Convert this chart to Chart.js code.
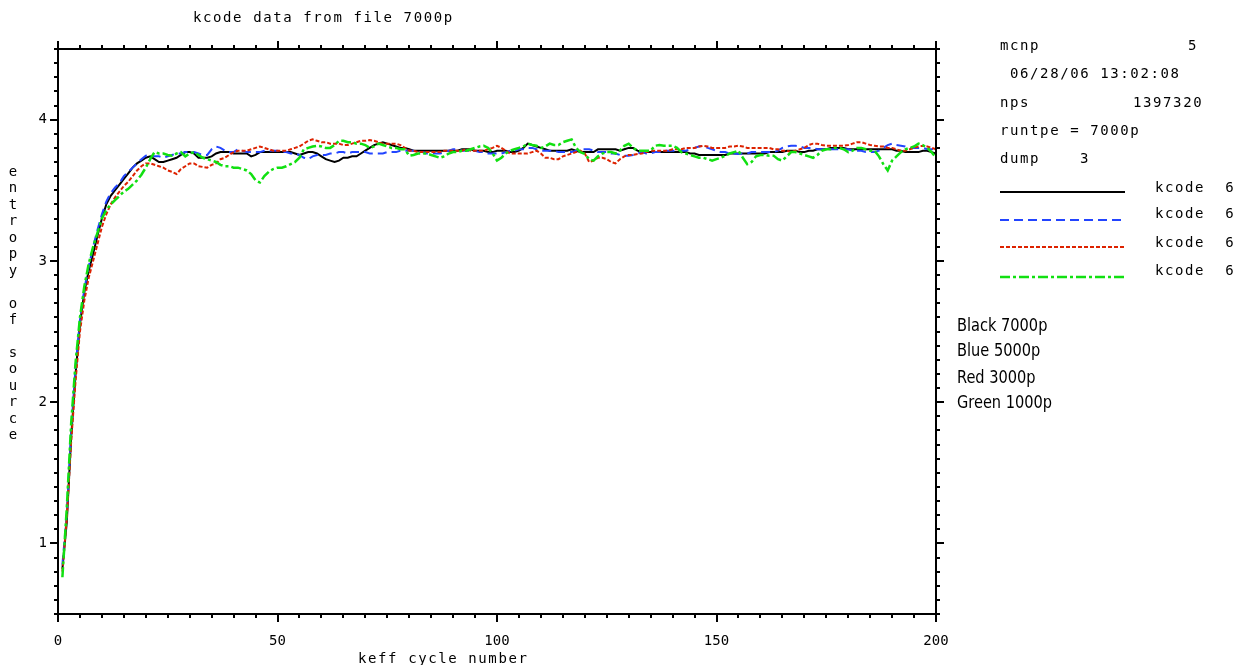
<!DOCTYPE html>
<html>
<head>
<meta charset="utf-8">
<script src="https://cdn.jsdelivr.net/npm/chart.js@4.4.0/dist/chart.umd.min.js"></script>
<style>
  html, body { margin: 0; padding: 0; background: #fff; }
  #wrap { position: relative; width: 1239px; height: 665px; overflow: hidden; }
  #chart { position: absolute; left: 0; top: 0; }
  .t { position: absolute; font-family: 'DejaVu Sans Mono', monospace; font-size: 14px; letter-spacing: 1.6px; line-height: 1; color: #000; white-space: pre; }
  .n { position: absolute; font-family: 'DejaVu Sans Condensed', 'Liberation Sans Narrow', sans-serif; font-size: 18px; letter-spacing: 0; line-height: 1; color: #000; white-space: pre; transform: scaleX(0.9); transform-origin: left top; }
  #ytitle { left: 8px; top: 163px; line-height: 16.44px; letter-spacing: 0; width: 10px; text-align: center; }
</style>
</head>
<body>
<div id="wrap">
  <canvas id="chart" width="1239" height="665"></canvas>

  <div class="t" style="left:193px; top:10px;">kcode data from file 7000p</div>
  <div class="t" style="left:358px; top:651px;">keff cycle number</div>
  <div class="t" id="ytitle"></div>

  <!-- info panel on the right -->
  <div class="t" style="left:1000px; top:38px;">mcnp</div>
  <div class="t" style="left:1188px; top:38px;">5</div>
  <div class="t" style="left:1000px; top:66px;"> 06/28/06 13:02:08</div>
  <div class="t" style="left:1000px; top:95px;">nps</div>
  <div class="t" style="left:1133px; top:95px;">1397320</div>
  <div class="t" style="left:1000px; top:123px;">runtpe = 7000p</div>
  <div class="t" style="left:1000px; top:151px;">dump</div>
  <div class="t" style="left:1080px; top:151px;">3</div>
  <div class="t" style="left:1155px; top:180px;">kcode  6</div>
  <div class="t" style="left:1155px; top:206px;">kcode  6</div>
  <div class="t" style="left:1155px; top:235px;">kcode  6</div>
  <div class="t" style="left:1155px; top:263px;">kcode  6</div>

  <div class="n" style="left:957px; top:316px;">Black 7000p</div>
  <div class="n" style="left:957px; top:341px;">Blue 5000p</div>
  <div class="n" style="left:957px; top:368px;">Red 3000p</div>
  <div class="n" style="left:957px; top:393px;">Green 1000p</div>
</div>

<script>
// kcode cycles 1..200
const CYCLES = Array.from({ length: 200 }, (_, i) => i + 1);

// entropy of source per cycle
const BLACK_7000 = [
  0.82, 1.15, 1.75, 2.20, 2.55, 2.78, 2.93, 3.05, 3.18, 3.30,
  3.40, 3.46, 3.50, 3.54, 3.58, 3.62, 3.66, 3.69, 3.71, 3.73,
  3.74, 3.72, 3.70, 3.70, 3.71, 3.72, 3.73, 3.75, 3.77, 3.77,
  3.76, 3.73, 3.73, 3.73, 3.74, 3.76, 3.77, 3.77, 3.77, 3.76,
  3.76, 3.76, 3.76, 3.74, 3.75, 3.77, 3.77, 3.77, 3.77, 3.77,
  3.77, 3.77, 3.77, 3.76, 3.75, 3.76, 3.77, 3.77, 3.76, 3.74,
  3.72, 3.71, 3.70, 3.71, 3.73, 3.73, 3.74, 3.74, 3.76, 3.78,
  3.80, 3.82, 3.83, 3.84, 3.83, 3.82, 3.81, 3.80, 3.80, 3.79,
  3.78, 3.78, 3.78, 3.78, 3.78, 3.78, 3.78, 3.78, 3.78, 3.78,
  3.78, 3.79, 3.79, 3.79, 3.78, 3.78, 3.78, 3.77, 3.77, 3.78,
  3.78, 3.78, 3.77, 3.77, 3.78, 3.80, 3.83, 3.82, 3.81, 3.80,
  3.79, 3.78, 3.78, 3.78, 3.78, 3.78, 3.79, 3.78, 3.77, 3.77,
  3.77, 3.77, 3.79, 3.79, 3.79, 3.79, 3.79, 3.78, 3.79, 3.80,
  3.80, 3.78, 3.77, 3.77, 3.77, 3.77, 3.77, 3.77, 3.77, 3.77,
  3.77, 3.77, 3.77, 3.76, 3.76, 3.75, 3.75, 3.75, 3.75, 3.75,
  3.75, 3.75, 3.76, 3.76, 3.76, 3.76, 3.76, 3.76, 3.76, 3.76,
  3.76, 3.77, 3.77, 3.77, 3.77, 3.78, 3.78, 3.78, 3.77, 3.77,
  3.78, 3.78, 3.79, 3.79, 3.79, 3.80, 3.80, 3.80, 3.80, 3.79,
  3.79, 3.79, 3.79, 3.79, 3.79, 3.79, 3.79, 3.79, 3.79, 3.79,
  3.78, 3.78, 3.77, 3.77, 3.77, 3.77, 3.78, 3.78, 3.77, 3.76
];

const BLUE_5000 = [
  0.85, 1.20, 1.80, 2.25, 2.58, 2.80, 2.96, 3.10, 3.22, 3.33,
  3.42, 3.48, 3.52, 3.55, 3.60, 3.63, 3.66, 3.69, 3.72, 3.745,
  3.75, 3.74, 3.74, 3.73, 3.74, 3.75, 3.76, 3.76, 3.77, 3.77,
  3.77, 3.76, 3.75, 3.75, 3.79, 3.81, 3.80, 3.78, 3.77, 3.77,
  3.79, 3.78, 3.77, 3.77, 3.77, 3.77, 3.78, 3.78, 3.78, 3.78,
  3.77, 3.77, 3.76, 3.76, 3.75, 3.73, 3.72, 3.74, 3.75, 3.75,
  3.75, 3.76, 3.76, 3.77, 3.77, 3.76, 3.77, 3.77, 3.77, 3.77,
  3.76, 3.76, 3.76, 3.76, 3.77, 3.77, 3.77, 3.78, 3.78, 3.78,
  3.78, 3.77, 3.77, 3.76, 3.76, 3.76, 3.76, 3.77, 3.78, 3.79,
  3.79, 3.78, 3.78, 3.78, 3.78, 3.77, 3.77, 3.76, 3.76, 3.76,
  3.76, 3.77, 3.78, 3.78, 3.79, 3.79, 3.80, 3.80, 3.79, 3.78,
  3.78, 3.78, 3.78, 3.77, 3.77, 3.77, 3.77, 3.78, 3.79, 3.79,
  3.79, 3.78, 3.77, 3.77, 3.77, 3.76, 3.76, 3.75, 3.745, 3.745,
  3.75, 3.76, 3.77, 3.76, 3.76, 3.77, 3.77, 3.78, 3.78, 3.78,
  3.78, 3.78, 3.78, 3.79, 3.80, 3.81, 3.815, 3.80, 3.79, 3.78,
  3.77, 3.77, 3.76, 3.76, 3.757, 3.76, 3.76, 3.77, 3.77, 3.77,
  3.77, 3.77, 3.77, 3.78, 3.80, 3.81, 3.815, 3.815, 3.81, 3.80,
  3.80, 3.80, 3.79, 3.79, 3.79, 3.79, 3.79, 3.79, 3.79, 3.79,
  3.78, 3.78, 3.78, 3.77, 3.77, 3.77, 3.78, 3.80, 3.82, 3.83,
  3.82, 3.815, 3.81, 3.80, 3.80, 3.80, 3.80, 3.79, 3.79, 3.79
];

const RED_3000 = [
  0.80, 1.18, 1.72, 2.15, 2.50, 2.72, 2.88, 3.00, 3.12, 3.24,
  3.33, 3.40, 3.45, 3.49, 3.53, 3.56, 3.60, 3.64, 3.67, 3.69,
  3.69, 3.68, 3.67, 3.66, 3.64, 3.63, 3.615, 3.65, 3.67, 3.69,
  3.69, 3.67, 3.665, 3.66, 3.68, 3.69, 3.72, 3.73, 3.75, 3.77,
  3.78, 3.78, 3.78, 3.79, 3.80, 3.81, 3.80, 3.79, 3.78, 3.78,
  3.78, 3.78, 3.79, 3.80, 3.81, 3.83, 3.85, 3.86, 3.85, 3.84,
  3.84, 3.83, 3.83, 3.83, 3.82, 3.82, 3.83, 3.84, 3.85, 3.85,
  3.855, 3.85, 3.84, 3.83, 3.83, 3.83, 3.83, 3.82, 3.80, 3.78,
  3.78, 3.77, 3.77, 3.77, 3.77, 3.77, 3.77, 3.78, 3.78, 3.78,
  3.78, 3.78, 3.79, 3.78, 3.78, 3.78, 3.78, 3.79, 3.80, 3.815,
  3.80, 3.78, 3.76, 3.76, 3.76, 3.76, 3.76, 3.77, 3.78, 3.76,
  3.73, 3.73, 3.72, 3.72, 3.74, 3.75, 3.76, 3.77, 3.78, 3.76,
  3.70, 3.71, 3.73, 3.73, 3.72, 3.70, 3.69, 3.72, 3.74, 3.75,
  3.75, 3.757, 3.76, 3.77, 3.78, 3.78, 3.78, 3.78, 3.78, 3.79,
  3.79, 3.79, 3.80, 3.80, 3.80, 3.81, 3.815, 3.81, 3.80, 3.80,
  3.80, 3.80, 3.81, 3.81, 3.815, 3.81, 3.80, 3.80, 3.80, 3.80,
  3.80, 3.80, 3.79, 3.79, 3.78, 3.78, 3.77, 3.78, 3.79, 3.80,
  3.82, 3.83, 3.83, 3.82, 3.815, 3.815, 3.815, 3.815, 3.815, 3.82,
  3.83, 3.84, 3.84, 3.83, 3.82, 3.815, 3.81, 3.81, 3.80, 3.80,
  3.79, 3.78, 3.78, 3.79, 3.80, 3.81, 3.815, 3.81, 3.80, 3.79
];

const GREEN_1000 = [
  0.76, 1.25, 1.85, 2.28, 2.60, 2.82, 2.98, 3.10, 3.20, 3.30,
  3.36, 3.40, 3.43, 3.46, 3.49, 3.51, 3.54, 3.57, 3.61, 3.66,
  3.72, 3.77, 3.76, 3.76, 3.75, 3.745, 3.76, 3.77, 3.74, 3.76,
  3.77, 3.75, 3.73, 3.72, 3.71, 3.70, 3.68, 3.67, 3.67, 3.66,
  3.66, 3.65, 3.64, 3.615, 3.57, 3.555, 3.60, 3.63, 3.65, 3.66,
  3.66, 3.67, 3.685, 3.70, 3.73, 3.79, 3.80, 3.81, 3.815, 3.81,
  3.80, 3.80, 3.82, 3.85, 3.85, 3.84, 3.84, 3.83, 3.83, 3.82,
  3.80, 3.81, 3.83, 3.82, 3.81, 3.80, 3.80, 3.79, 3.79, 3.745,
  3.75, 3.76, 3.76, 3.76, 3.75, 3.74, 3.73, 3.74, 3.76, 3.77,
  3.77, 3.78, 3.78, 3.79, 3.80, 3.81, 3.815, 3.80, 3.76, 3.71,
  3.73, 3.76, 3.78, 3.79, 3.80, 3.81, 3.83, 3.82, 3.815, 3.80,
  3.81, 3.83, 3.82, 3.82, 3.84, 3.85, 3.86, 3.80, 3.77, 3.757,
  3.72, 3.71, 3.74, 3.76, 3.77, 3.77, 3.76, 3.78, 3.815, 3.83,
  3.80, 3.78, 3.78, 3.78, 3.78, 3.815, 3.82, 3.815, 3.815, 3.815,
  3.80, 3.77, 3.76, 3.75, 3.74, 3.73, 3.73, 3.72, 3.71, 3.72,
  3.73, 3.745, 3.76, 3.77, 3.78, 3.73, 3.685, 3.70, 3.74, 3.75,
  3.75, 3.745, 3.745, 3.72, 3.71, 3.74, 3.77, 3.77, 3.76, 3.75,
  3.74, 3.73, 3.75, 3.78, 3.79, 3.79, 3.80, 3.80, 3.79, 3.77,
  3.78, 3.80, 3.80, 3.79, 3.78, 3.78, 3.74, 3.685, 3.64, 3.71,
  3.74, 3.77, 3.79, 3.80, 3.81, 3.83, 3.82, 3.80, 3.77, 3.73
];

// axis ticks
const X_TICKS = [0, 50, 100, 150, 200];
const Y_TICKS = [1, 2, 3, 4];

const Y_TITLE = 'entropy of source';
document.getElementById('ytitle').textContent = Y_TITLE.split('').join('\n');

const FONT = { family: "'DejaVu Sans Mono', monospace", size: 14 };

function series(values) {
  return values.map((v, i) => ({ x: CYCLES[i], y: v }));
}

// frame with outward ticks on all four sides, plus the line samples of the side legend
const frameTicks = {
  id: 'frameTicks',
  afterDraw(chart) {
    const { ctx, chartArea: a, scales: { x, y } } = chart;
    ctx.save();
    ctx.strokeStyle = '#000';
    ctx.lineWidth = 2;
    ctx.setLineDash([]);
    ctx.strokeRect(a.left, a.top, a.right - a.left, a.bottom - a.top);

    ctx.beginPath();
    for (let v = 0; v <= 200; v += 5) {
      const px = Math.round(x.getPixelForValue(v));
      const len = v % 50 === 0 ? 8 : 4;
      ctx.moveTo(px, a.bottom); ctx.lineTo(px, a.bottom + len);
      ctx.moveTo(px, a.top); ctx.lineTo(px, a.top - len);
    }
    for (let k = 5; k <= 45; k++) {
      const py = Math.round(y.getPixelForValue(k / 10));
      const len = k % 10 === 0 ? 8 : 4;
      ctx.moveTo(a.left, py); ctx.lineTo(a.left - len, py);
      ctx.moveTo(a.right, py); ctx.lineTo(a.right + len, py);
    }
    ctx.stroke();

    const rows = [192, 220, 247, 277];
    chart.data.datasets.forEach((ds, i) => {
      ctx.beginPath();
      ctx.strokeStyle = ds.borderColor;
      ctx.lineWidth = ds.borderWidth;
      ctx.setLineDash(ds.borderDash || []);
      ctx.moveTo(1000, rows[i]);
      ctx.lineTo(1125, rows[i]);
      ctx.stroke();
    });
    ctx.restore();
  }
};

new Chart(document.getElementById('chart'), {
  type: 'line',
  data: {
    datasets: [
      { label: 'Black 7000p', data: series(BLACK_7000), borderColor: '#000000', borderWidth: 2, borderDash: [], order: 3 },
      { label: 'Blue 5000p', data: series(BLUE_5000), borderColor: '#2244ff', borderWidth: 2, borderDash: [9, 5], order: 2 },
      { label: 'Red 3000p', data: series(RED_3000), borderColor: '#dd2200', borderWidth: 2, borderDash: [4, 2], order: 1 },
      { label: 'Green 1000p', data: series(GREEN_1000), borderColor: '#11e011', borderWidth: 2.5, borderDash: [10, 3, 3, 3], order: 0 }
    ]
  },
  options: {
    responsive: false,
    animation: false,
    devicePixelRatio: 1,
    layout: { padding: { left: 0, top: 49, right: 303, bottom: 0 } },
    elements: { point: { radius: 0 }, line: { tension: 0, fill: false } },
    plugins: { legend: { display: false }, tooltip: { enabled: false }, title: { display: false } },
    scales: {
      x: {
        type: 'linear',
        min: 0,
        max: 200,
        afterBuildTicks: s => { s.ticks = X_TICKS.map(v => ({ value: v })); },
        afterFit: s => { s.height = 51; },
        grid: { display: false, drawTicks: false },
        border: { display: false },
        ticks: { font: FONT, color: '#000', padding: 19, maxRotation: 0, autoSkip: false }
      },
      y: {
        type: 'linear',
        min: 0.5,
        max: 4.5,
        afterBuildTicks: s => { s.ticks = Y_TICKS.map(v => ({ value: v })); },
        afterFit: s => { s.width = 58; },
        grid: { display: false, drawTicks: false },
        border: { display: false },
        ticks: { font: FONT, color: '#000', padding: 11, autoSkip: false }
      }
    }
  },
  plugins: [frameTicks]
});
</script>
</body>
</html>
